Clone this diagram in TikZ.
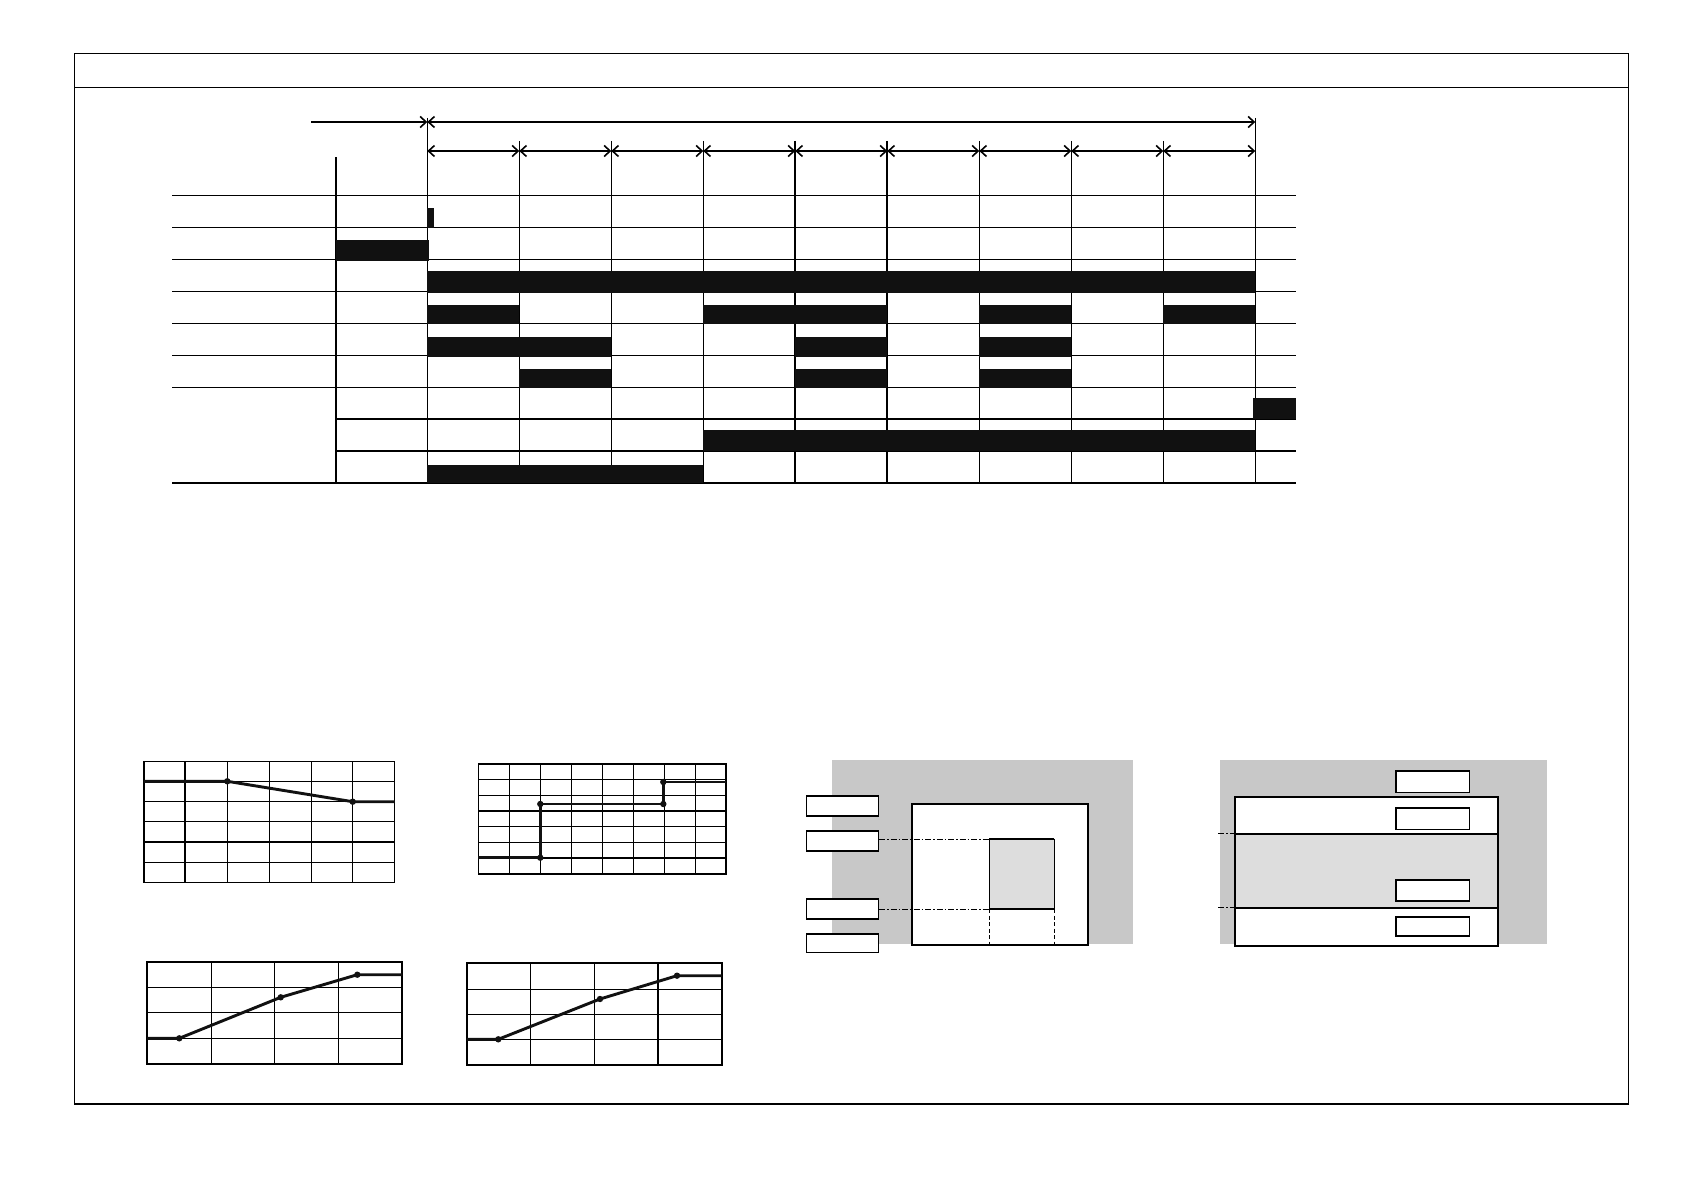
\documentclass[tikz,border=0pt]{standalone}
\usetikzlibrary{arrows.meta}
\definecolor{barblack}{HTML}{111111}
\definecolor{bggray}{HTML}{C8C8C8}
\definecolor{lightgray}{HTML}{DDDDDD}
\begin{document}
\begin{tikzpicture}[x=1pt,y=-1pt,
  gl/.style={line width=1.3pt, draw=black},
  tl/.style={line width=2.3pt, draw=black},
  curve/.style={line width=2.9pt, draw=barblack, line join=round},
  dot/.style={fill=barblack},
  barfill/.style={fill=barblack},
  tipr/.style={-{Straight Barb[length=6pt,width=11pt,line width=1.6pt]}},
  tipb/.style={{Straight Barb[length=6pt,width=11pt,line width=1.6pt]}-{Straight Barb[length=6pt,width=11pt,line width=1.6pt]}},
  dimline/.style={line width=1.8pt},
  dashdot/.style={line width=1.1pt, dash pattern=on 6pt off 2pt on 1.5pt off 2pt},
  dashv/.style={line width=1.1pt, dash pattern=on 4pt off 2.5pt},
  smallbox/.style={fill=white, draw=black, line width=1.3pt},
  bigbox/.style={draw=black, line width=2.3pt}]
\useasboundingbox (0,0) rectangle (1684,1190);
\fill[white] (0,0) rectangle (1684,1190);

% frame
\draw[line width=1.2pt] (74.2,53.3) rectangle (1628.2,1104);
\draw[line width=1.2pt] (74.2,87.3) -- (1628.2,87.3);

% ---------- timing chart ----------
\foreach \y in {195.3,227.3,259.3,291.3,323.3,355.3,387.3}
  \draw[gl] (172,\y) -- (1296,\y);
\draw[tl] (335.7,419) -- (1296,419);
\draw[gl] (335.7,451) -- (1296,451);
\draw[tl] (172,482.7) -- (1296,482.7);
\draw[tl] (335.7,157.3) -- (335.7,482.7);
\draw[gl] (427.3,118) -- (427.3,482.7);
\draw[gl] (1255.3,118) -- (1255.3,482.7);
\foreach \x in {519.3,611.3,703.3,979.3,1071.3,1163.3}
  \draw[gl] (\x,141) -- (\x,482.7);
\foreach \x in {795.3,887.3}
  \draw[tl] (\x,141) -- (\x,482.7);

% arrows
\coordinate (a0) at (311,122);
\coordinate (a1) at (427.3,122);
\coordinate (a2) at (1255.3,122);
\draw[dimline,tipr] (a0) -- (a1);
\draw[dimline,tipb] (a1) -- (a2);
\foreach \k in {0,...,8}{
  \pgfmathsetmacro{\xa}{427.3+92*\k}
  \pgfmathsetmacro{\xb}{427.3+92*(\k+1)}
  \coordinate (s\k) at (\xa,151);
  \coordinate (e\k) at (\xb,151);
  \draw[dimline,tipb] (s\k) -- (e\k);
}

% bars
\fill[barblack] (427.3,208.3) rectangle (433.5,228.3);
\fill[barblack] (335.7,240) rectangle (428.7,260.7);
\fill[barblack] (427.3,271) rectangle (1255.3,292.7);
\foreach \a/\b in {427.3/519.3,703.3/887.3,979.3/1071.3,1163.3/1255.3}
  \fill[barblack] (\a,305) rectangle (\b,324.5);
\foreach \a/\b in {427.3/611.3,795.3/887.3,979.3/1071.3}
  \fill[barblack] (\a,337) rectangle (\b,356.7);
\foreach \a/\b in {519.3/611.3,795.3/887.3,979.3/1071.3}
  \fill[barblack] (\a,369) rectangle (\b,388);
\fill[barblack] (1253.3,398.3) rectangle (1295.7,419.3);
\fill[barblack] (703.3,430) rectangle (1255.3,451);
\fill[barblack] (427.3,465) rectangle (703.3,483);

% ---------- chart A ----------
\foreach \x in {185,227.3,269.3,311.7,352.7}
  \draw[gl] (\x,761.3) -- (\x,882.3);
\foreach \y in {781.3,801.7,821.7,842,862.7}
  \draw[gl] (143.7,\y) -- (394.7,\y);
\draw[gl] (143.7,761.3) rectangle (394.7,882.3);
\draw[tl] (143.7,761.3) -- (143.7,882.3);
\coordinate (pa1) at (227.3,781.3);
\coordinate (pa2) at (352.7,801.7);
\draw[curve] (143.7,781.3) -- (pa1) -- (pa2) -- (394.7,801.7);
\fill[dot] (pa1) circle (3.2pt) (pa2) circle (3.2pt);

% ---------- chart B ----------
\foreach \x in {509.3,540.3,571.3,602.7,633.7,664.7,695.7}
  \draw[gl] (\x,764) -- (\x,874);
\foreach \y in {779.7,795.3,811,826.7,842.3,858}
  \draw[gl] (478.3,\y) -- (726,\y);
\draw[gl] (478.3,764) rectangle (726,874);
\draw[tl] (726,764) -- (726,874) (478.3,874) -- (726,874);
\coordinate (pb1) at (540.3,857.7);
\coordinate (pb2) at (540.3,804);
\coordinate (pb3) at (663.3,804);
\coordinate (pb4) at (663.3,782);
\draw[curve] (478.3,857.7) -- (pb1) -- (pb2) -- (pb3) -- (pb4) -- (726,782);
\fill[dot] (pb1) circle (3.2pt) (pb2) circle (3.2pt) (pb3) circle (3.2pt) (pb4) circle (3.2pt);

% ---------- chart C ----------
\foreach \x in {211.3,274.3,338.3}
  \draw[gl] (\x,961.7) -- (\x,1064);
\foreach \y in {987.3,1012.7,1038.3}
  \draw[gl] (147.3,\y) -- (402.3,\y);
\draw[tl] (147.3,961.7) rectangle (402.3,1064);
\coordinate (pc1) at (179.3,1038.3);
\coordinate (pc2) at (280.7,997.3);
\coordinate (pc3) at (357.3,974.7);
\draw[curve] (147.3,1038.3) -- (pc1) -- (pc2) -- (pc3) -- (402.3,974.7);
\fill[dot] (pc1) circle (3.2pt) (pc2) circle (3.2pt) (pc3) circle (3.2pt);

% ---------- chart D ----------
\foreach \x in {530.3,594.3,658}
  \draw[gl] (\x,963.3) -- (\x,1064.7);
\foreach \y in {989.3,1014.3,1039.3}
  \draw[gl] (466.7,\y) -- (721.7,\y);
\draw[tl] (466.7,963.3) rectangle (721.7,1064.7);
\coordinate (pd1) at (498.3,1039.3);
\coordinate (pd2) at (600,999);
\coordinate (pd3) at (677,975.7);
\draw[curve] (466.7,1039.3) -- (pd1) -- (pd2) -- (pd3) -- (721.7,975.7);
\fill[dot] (pd1) circle (3.2pt) (pd2) circle (3.2pt) (pd3) circle (3.2pt);

% ---------- diagram E ----------
\fill[bggray] (831.7,760) rectangle (1133.3,944.3);
\draw[bigbox, fill=white] (911.7,803.7) rectangle (1088.3,944.7);
\fill[lightgray] (989.3,838.7) rectangle (1054.3,909);
\draw[gl] (989.3,838.7) -- (989.3,909) (1054.3,838.7) -- (1054.3,909);
\draw[tl] (989.3,838.7) -- (1054.3,838.7) (989.3,909) -- (1054.3,909);
\node[smallbox, minimum width=71.7pt, minimum height=20pt, inner sep=0pt, anchor=north west] (e1) at (806,795.3) {};
\node[smallbox, minimum width=71.7pt, minimum height=20pt, inner sep=0pt, anchor=north west] (e2) at (806,830.3) {};
\node[smallbox, minimum width=71.7pt, minimum height=20pt, inner sep=0pt, anchor=north west] (e3) at (806,898.3) {};
\node[smallbox, minimum width=71.7pt, minimum height=18.4pt, inner sep=0pt, anchor=north west] (e4) at (806,933.3) {};
\coordinate (it) at (989.3,839.3);
\coordinate (ib) at (989.3,909.3);
\draw[dashdot] (e2.east |- it) -- (it);
\draw[dashdot] (e3.east |- ib) -- (ib);
\draw[dashv] (989.3,909) -- (989.3,944.7);
\draw[dashv] (1054.3,909) -- (1054.3,944.7);

% ---------- diagram F ----------
\fill[bggray] (1220,760) rectangle (1546.7,944.3);
\fill[white] (1235,796.7) rectangle (1498,946);
\fill[lightgray] (1235,833.7) rectangle (1498,907.7);
\draw[bigbox] (1235,796.7) rectangle (1498,946);
\draw[bigbox] (1235,833.7) -- (1498,833.7) (1235,907.7) -- (1498,907.7);
\node[smallbox, minimum width=73.4pt, minimum height=21.4pt, inner sep=0pt, anchor=north west] (f1) at (1395.3,770.3) {};
\node[smallbox, minimum width=73.4pt, minimum height=21.4pt, inner sep=0pt, anchor=north west] (f2) at (1395.3,807.3) {};
\node[smallbox, minimum width=73.4pt, minimum height=21pt, inner sep=0pt, anchor=north west] (f3) at (1395.3,879.3) {};
\node[smallbox, minimum width=73.4pt, minimum height=19pt, inner sep=0pt, anchor=north west] (f4) at (1395.3,916.3) {};
\coordinate (fl1) at (1218.3,833.7);
\coordinate (fl2) at (1218.3,907.7);
\draw[dashdot] (fl1) -- (1235,833.7);
\draw[dashdot] (fl2) -- (1235,907.7);
\end{tikzpicture}
\end{document}
